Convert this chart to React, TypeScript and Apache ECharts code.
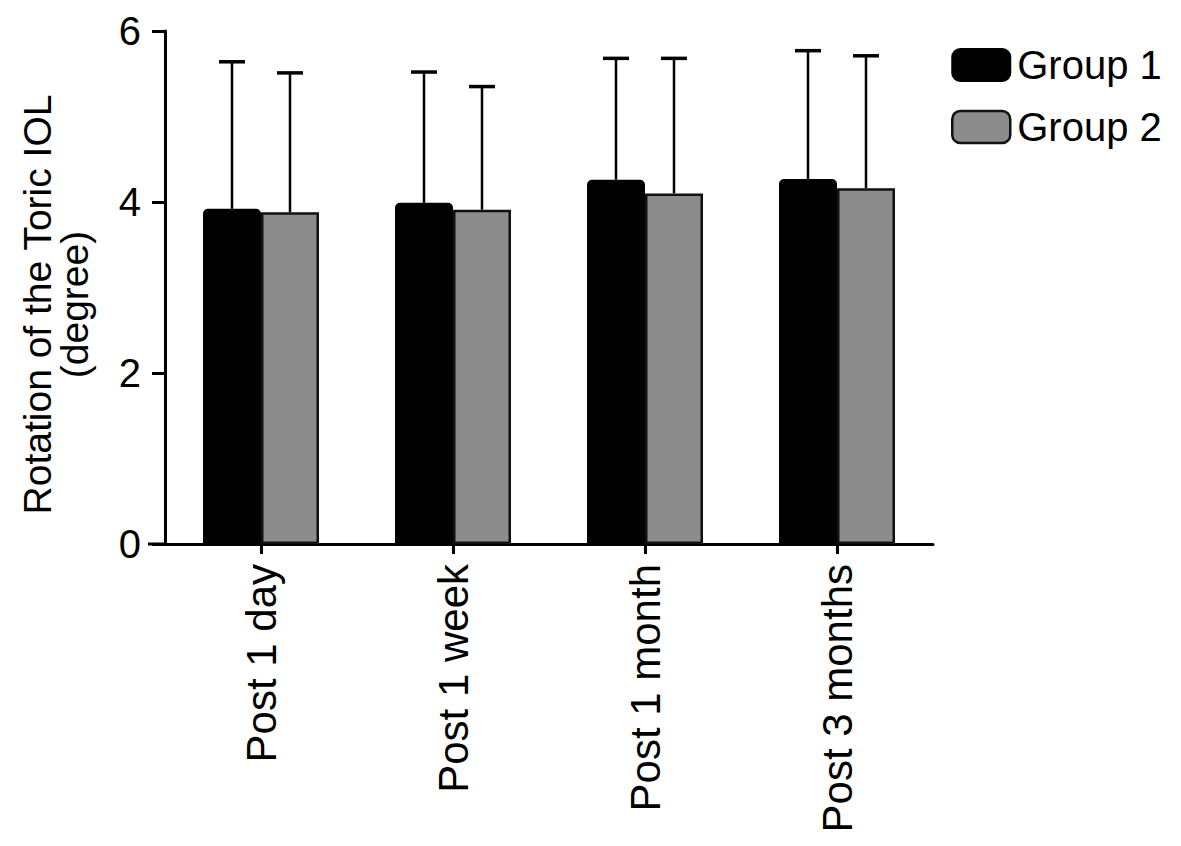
import React, { useEffect, useRef } from "react";
import * as echarts from "echarts";

const categories = ["Post 1 day", "Post 1 week", "Post 1 month", "Post 3 months"];
const group1Mean = [3.92, 3.99, 4.26, 4.27];
const group1SD = [1.72, 1.53, 1.42, 1.5];
const group2Mean = [3.88, 3.91, 4.1, 4.16];
const group2SD = [1.63, 1.44, 1.58, 1.55];
const yTicks = [0, 2, 4, 6];

const BAR_W = 58;
const FONT = "Liberation Sans, Arial, Helvetica, sans-serif";

function errorSeries(name: string, means: number[], sds: number[], offset: number) {
  return {
    type: "custom",
    name: name + " err",
    silent: true,
    z: 1,
    data: means.map((m, i) => [i, m, m + sds[i]]),
    renderItem: (params: any, api: any) => {
      const idx = api.value(0);
      const low = api.coord([idx, api.value(1)]);
      const high = api.coord([idx, api.value(2)]);
      const x = low[0] + offset;
      const capHalf = 13;
      const style = { stroke: "#000", lineWidth: 2.5 };
      return {
        type: "group",
        children: [
          { type: "line", shape: { x1: x, y1: low[1], x2: x, y2: high[1] }, style },
          { type: "line", shape: { x1: x - capHalf, y1: high[1], x2: x + capHalf, y2: high[1] }, style: { stroke: "#000", lineWidth: 3.5 } },
        ],
      };
    },
  };
}

export default function App() {
  const ref = useRef<HTMLDivElement>(null);
  useEffect(() => {
    document.body.style.margin = "0";
    const chart = echarts.init(ref.current!, undefined, { renderer: "svg" });
    chart.setOption({
      animation: false,
      backgroundColor: "#fff",
      textStyle: { fontFamily: FONT },
      grid: { left: 165, top: 31, width: 768, height: 513, containLabel: false },
      legend: {
        orient: "vertical",
        left: 946,
        top: 40,
        itemWidth: 58,
        itemHeight: 32,
        itemGap: 22,
        textStyle: { fontSize: 40, color: "#000", fontFamily: FONT, padding: [0, 0, 0, 2] },
        data: [
          { name: "Group 1", itemStyle: { color: "#000", borderColor: "#000", borderWidth: 2, borderRadius: 4 } },
          { name: "Group 2", itemStyle: { color: "#8c8c8c", borderColor: "#111", borderWidth: 2.5, borderRadius: 3 } },
        ],
      },
      xAxis: {
        type: "category",
        data: categories,
        axisLine: { show: true, lineStyle: { color: "#000", width: 3 } },
        axisTick: { show: true, alignWithLabel: true, length: 10, lineStyle: { color: "#000", width: 3 } },
        axisLabel: { rotate: 90, fontSize: 42, color: "#000", margin: 20, fontFamily: FONT },
        splitLine: { show: false },
      },
      yAxis: {
        type: "value",
        min: 0,
        max: 6,
        interval: 2,
        name: "Rotation of the Toric IOL\n(degree)",
        nameLocation: "middle",
        nameGap: 72,
        nameTextStyle: { fontSize: 39, color: "#000", lineHeight: 37, fontFamily: FONT, padding: [0, 34, 0, 0] },
        axisLine: { show: true, lineStyle: { color: "#000", width: 3 } },
        axisTick: { show: true, length: 13, lineStyle: { color: "#000", width: 3 } },
        axisLabel: { fontSize: 40, color: "#000", margin: 24, fontFamily: FONT, formatter: (v: number) => (yTicks.includes(v) ? String(v) : "") },
        splitLine: { show: false },
      },
      graphic: [
        { type: "line", shape: { x1: 148, y1: 544, x2: 166, y2: 544 }, style: { stroke: "#000", lineWidth: 3 } },
      ],
      series: [
        {
          type: "bar",
          name: "Group 1",
          data: group1Mean,
          barWidth: BAR_W,
          barGap: "0%",
          z: 2,
          itemStyle: { color: "#000", borderColor: "#000", borderWidth: 2, borderRadius: [4, 4, 0, 0] },
        },
        {
          type: "bar",
          name: "Group 2",
          data: group2Mean,
          barWidth: BAR_W,
          barGap: "0%",
          z: 2,
          itemStyle: { color: "#8c8c8c", borderColor: "#111", borderWidth: 2.5 },
        },
        errorSeries("Group 1", group1Mean, group1SD, -BAR_W / 2),
        errorSeries("Group 2", group2Mean, group2SD, BAR_W / 2),
      ],
    });
    return () => chart.dispose();
  }, []);
  return <div ref={ref} style={{ width: 1181, height: 846 }} />;
}
